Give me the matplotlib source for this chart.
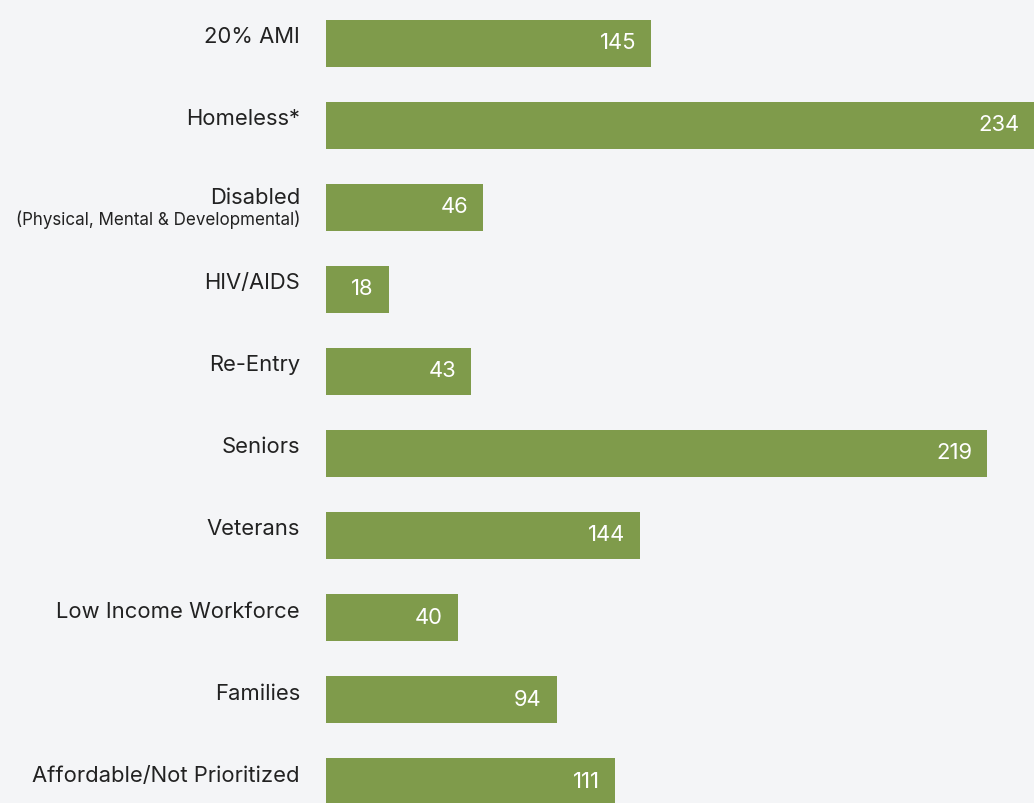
import numpy as np
import matplotlib.pyplot as plt

plt.rcParams['font.family'] = ['Inter', 'DejaVu Sans']

categories = ['20% AMI', 'Homeless*', 'Disabled', 'HIV/AIDS', 'Re-Entry', 'Seniors',
              'Veterans', 'Low Income Workforce', 'Families', 'Affordable/Not Prioritized']
subtitles = ['', '', '(Physical, Mental & Developmental)', '', '', '', '', '', '', '']
counts = [145, 234, 46, 18, 43, 219, 144, 40, 94, 111]
# bar lengths as drawn in the source graphic (they are not to scale with the counts)
bar_len = [107.4, 234, 51.9, 20.8, 47.9, 218.5, 103.8, 43.6, 76.3, 95.5]

green = '#7f9b4b'
bg = '#f4f5f7'
txt = '#222222'

fig = plt.figure(figsize=(1034 / 72, 803 / 72), dpi=72, facecolor=bg)
ax = fig.add_axes([326 / 1034, 0, 1 - 326 / 1034, 1])
ax.set_facecolor(bg)

y = np.arange(len(categories))
ax.barh(y, bar_len, height=0.573, color=green)
ax.set_xlim(0, max(bar_len))
ax.set_ylim(9.262, -0.530)
ax.axis('off')

for i, (cat, sub, n, w) in enumerate(zip(categories, subtitles, counts, bar_len)):
    # value inside the bar, right aligned
    ax.annotate(str(n), xy=(w, i), xytext=(-15, 0), textcoords='offset points',
                ha='right', va='center', color='white', fontsize=22, annotation_clip=False)
    if sub:
        ax.annotate(cat, xy=(0, i), xytext=(-26, 9.5), textcoords='offset points',
                    ha='right', va='center', color=txt, fontsize=22, annotation_clip=False)
        ax.annotate(sub, xy=(0, i), xytext=(-26, -12), textcoords='offset points',
                    ha='right', va='center', color=txt, fontsize=17, annotation_clip=False)
    else:
        ax.annotate(cat, xy=(0, i), xytext=(-26, 6), textcoords='offset points',
                    ha='right', va='center', color=txt, fontsize=22, annotation_clip=False)

fig.savefig('out.png', dpi=72, facecolor=bg)
